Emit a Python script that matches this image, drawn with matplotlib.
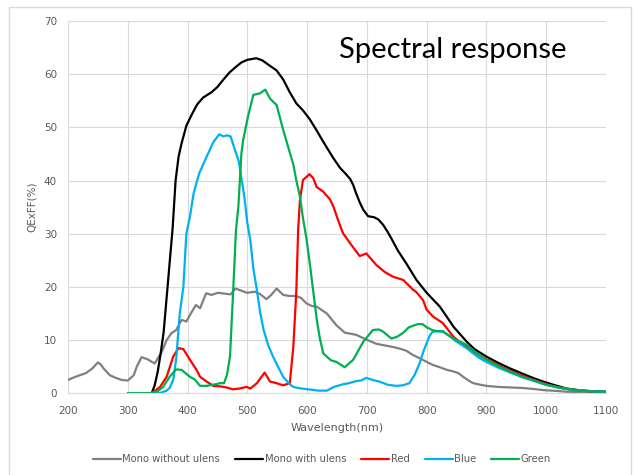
import matplotlib
matplotlib.use("Agg")
import matplotlib.pyplot as plt
from matplotlib.patches import Rectangle

# ---- data ----
gray_wl = [200, 210, 220, 230, 240, 250, 255, 260, 270, 280, 290, 300, 310, 315, 323, 333, 345, 357, 365, 373, 381, 390, 398, 407, 414, 421, 431, 440, 451, 465, 472, 480, 490, 499, 513, 522, 532, 540, 549, 560, 570, 582, 590, 599, 608, 616, 633, 649, 663, 682, 699, 716, 730, 744, 755, 766, 777, 790, 800, 811, 822, 834, 845, 853, 861, 870, 878, 890, 900, 920, 940, 961, 980, 995, 1010, 1034, 1060, 1090, 1100]
gray_qe = [2.5, 3.0, 3.4, 3.8, 4.6, 5.8, 5.4, 4.6, 3.4, 2.9, 2.5, 2.4, 3.4, 5.0, 6.8, 6.4, 5.6, 7.8, 10.0, 11.3, 11.9, 13.8, 13.5, 15.3, 16.6, 16.0, 18.8, 18.5, 18.9, 18.7, 18.6, 19.7, 19.3, 18.9, 19.1, 18.6, 17.7, 18.5, 19.7, 18.5, 18.3, 18.3, 17.9, 16.9, 16.4, 16.3, 15.0, 12.8, 11.4, 11.0, 10.1, 9.3, 9.0, 8.7, 8.4, 8.0, 7.2, 6.5, 5.9, 5.3, 4.9, 4.4, 4.1, 3.8, 3.1, 2.4, 1.9, 1.6, 1.4, 1.2, 1.1, 1.0, 0.8, 0.6, 0.5, 0.3, 0.2, 0.1, 0.1]

black_wl = [340, 345, 350, 355, 360, 365, 370, 375, 380, 385, 390, 398, 407, 416, 426, 440, 450, 460, 470, 480, 490, 500, 515, 525, 535, 549, 560, 571, 582, 593, 604, 615, 627, 644, 655, 665, 672, 677, 682, 688, 694, 702, 712, 719, 727, 735, 741, 752, 766, 783, 800, 811, 822, 833, 845, 856, 867, 880, 900, 920, 939, 960, 980, 995, 1015, 1034, 1060, 1080, 1100]
black_qe = [0, 1.5, 4, 7.5, 11.5, 18, 24.5, 31, 40, 44.5, 47, 50.3, 52.4, 54.3, 55.6, 56.6, 57.6, 59.0, 60.3, 61.3, 62.2, 62.7, 63.0, 62.6, 61.8, 60.7, 59.0, 56.6, 54.5, 53.2, 51.6, 49.6, 47.3, 44.2, 42.4, 41.2, 40.3, 39.2, 37.6, 35.9, 34.5, 33.3, 33.1, 32.7, 31.7, 30.3, 29.1, 26.8, 24.4, 21.3, 18.9, 17.6, 16.3, 14.5, 12.5, 11.1, 9.7, 8.3, 6.9, 5.7, 4.7, 3.7, 2.8, 2.2, 1.5, 0.9, 0.5, 0.35, 0.3]

red_wl = [300, 340, 354, 365, 376, 385, 393, 404, 415, 421, 432, 443, 455, 465, 476, 487, 499, 505, 516, 529, 538, 549, 560, 571, 577, 582, 585, 588, 593, 604, 610, 616, 627, 638, 644, 652, 660, 672, 688, 699, 716, 730, 744, 761, 777, 783, 794, 800, 811, 827, 845, 856, 867, 880, 890, 900, 920, 940, 960, 980, 1000, 1020, 1040, 1060, 1080, 1100]
red_qe = [0, 0, 1.2, 3.1, 6.9, 8.5, 8.3, 6.3, 4.4, 3.1, 2.2, 1.4, 1.3, 1.1, 0.75, 0.9, 1.2, 0.9, 1.9, 3.9, 2.2, 1.9, 1.5, 1.9, 8.8, 19.4, 30.7, 36.3, 40.1, 41.2, 40.5, 38.8, 37.9, 36.5, 35.1, 32.5, 30.1, 28.2, 25.8, 26.3, 24.1, 22.8, 21.9, 21.3, 19.5, 19.0, 17.5, 15.7, 14.4, 13.2, 10.6, 9.6, 8.8, 7.7, 7.0, 6.4, 5.3, 4.2, 3.3, 2.5, 1.7, 1.1, 0.7, 0.5, 0.35, 0.3]

blue_wl = [300, 340, 355, 365, 370, 376, 381, 387, 393, 398, 404, 410, 415, 420, 432, 443, 453, 460, 466, 472, 480, 486, 490, 495, 500, 505, 510, 516, 521, 527, 535, 543, 550, 560, 570, 577, 590, 605, 620, 633, 645, 660, 670, 682, 690, 699, 710, 721, 735, 749, 760, 771, 780, 788, 795, 800, 805, 810, 827, 840, 850, 860, 870, 880, 890, 900, 920, 940, 960, 980, 1000, 1020, 1040, 1060, 1080, 1100]
blue_qe = [0, 0, 0.1, 0.5, 1.0, 2.5, 6.5, 15, 20, 30, 33.2, 37.5, 39.6, 41.5, 44.5, 47.2, 48.7, 48.3, 48.5, 48.3, 45.5, 43.5, 40.5, 37, 32, 28.8, 23.5, 19.4, 15.5, 12, 9, 6.9, 5.3, 3.1, 1.8, 1.2, 0.9, 0.7, 0.5, 0.5, 1.2, 1.7, 1.9, 2.3, 2.4, 2.9, 2.5, 2.2, 1.6, 1.4, 1.5, 1.9, 3.5, 5.6, 8.0, 9.4, 10.8, 11.6, 11.7, 10.6, 9.7, 9.0, 8.2, 7.3, 6.5, 5.9, 4.8, 3.9, 3.0, 2.3, 1.6, 1.1, 0.7, 0.5, 0.35, 0.3]

green_wl = [300, 337, 350, 359, 370, 381, 390, 404, 412, 421, 432, 449, 454, 461, 466, 471, 476, 481, 485, 490, 493, 501, 510, 521, 530, 538, 549, 560, 577, 582, 588, 593, 599, 605, 610, 616, 621, 627, 640, 649, 663, 677, 694, 710, 720, 727, 741, 750, 761, 770, 785, 793, 800, 811, 827, 845, 867, 883, 900, 920, 939, 960, 980, 995, 1020, 1050, 1075, 1100]
green_qe = [0, 0, 0.4, 1.2, 3.1, 4.5, 4.4, 3.1, 2.6, 1.4, 1.4, 1.75, 1.9, 1.9, 3.5, 6.9, 18.5, 30.7, 35.1, 45, 47.6, 52, 56.1, 56.4, 57.1, 55.4, 54.2, 49.5, 43, 40, 37, 33, 29, 24, 19.4, 14, 10.5, 7.5, 6.2, 5.9, 4.9, 6.3, 9.7, 11.9, 12.0, 11.6, 10.3, 10.6, 11.4, 12.4, 13.0, 13.0, 12.4, 11.8, 11.6, 10.3, 9.1, 7.6, 6.3, 5.1, 4.1, 3.1, 2.4, 1.75, 1.1, 0.6, 0.4, 0.3]

series = [
    ("Mono without ulens", gray_wl, gray_qe, "#808080"),
    ("Mono with ulens", black_wl, black_qe, "#000000"),
    ("Red", red_wl, red_qe, "#ff0000"),
    ("Blue", blue_wl, blue_qe, "#00b0f0"),
    ("Green", green_wl, green_qe, "#00b050"),
]

x_ticks = [200, 300, 400, 500, 600, 700, 800, 900, 1000, 1100]
y_ticks = [0, 10, 20, 30, 40, 50, 60, 70]

# ---- figure ----
W, H = 635, 475
fig = plt.figure(figsize=(W / 100, H / 100), dpi=100)
fig.patches.append(Rectangle((9 / W, -0.01), (631 - 9) / W, 1.01 - 7 / H,
                             transform=fig.transFigure, fill=False,
                             edgecolor="#d9d9d9", linewidth=1.0))

ax = fig.add_axes([68 / W, 1 - 393.3 / H, (606 - 68) / W, (393.3 - 21) / H])

for name, wl, qe, col in series:
    ax.plot(wl, qe, color=col, linewidth=1.6, label=name,
            solid_joinstyle="round", solid_capstyle="round")

ax.set_xlim(200, 1100)
ax.set_ylim(0, 70)
ax.set_xticks(x_ticks)
ax.set_yticks(y_ticks)
ax.grid(True, color="#d9d9d9", linewidth=0.8)
ax.set_axisbelow(True)
for s in ["top", "right", "left"]:
    ax.spines[s].set_visible(False)
ax.spines["bottom"].set_color("#d9d9d9")
ax.tick_params(axis="both", length=0, colors="#595959", labelsize=7.5)
ax.tick_params(axis="x", pad=9)
ax.tick_params(axis="y", pad=8)

ax.set_xlabel("Wavelength(nm)", fontsize=8, color="#595959", labelpad=5)
ax.set_ylabel("QExFF(%)", fontsize=7.5, color="#595959", labelpad=5)

ax.text(453 / W, 1 - 50 / H, "Spectral response", transform=fig.transFigure,
        ha="center", va="center", fontsize=21, family="Lato", color="#000000")

fig.legend(loc="center", bbox_to_anchor=(322 / W, 1 - 459 / H), ncol=5,
           frameon=False, fontsize=7.2, handlelength=2.8, handletextpad=0.15,
           columnspacing=1.5, labelcolor="#595959")

fig.savefig("out.png", dpi=100)
